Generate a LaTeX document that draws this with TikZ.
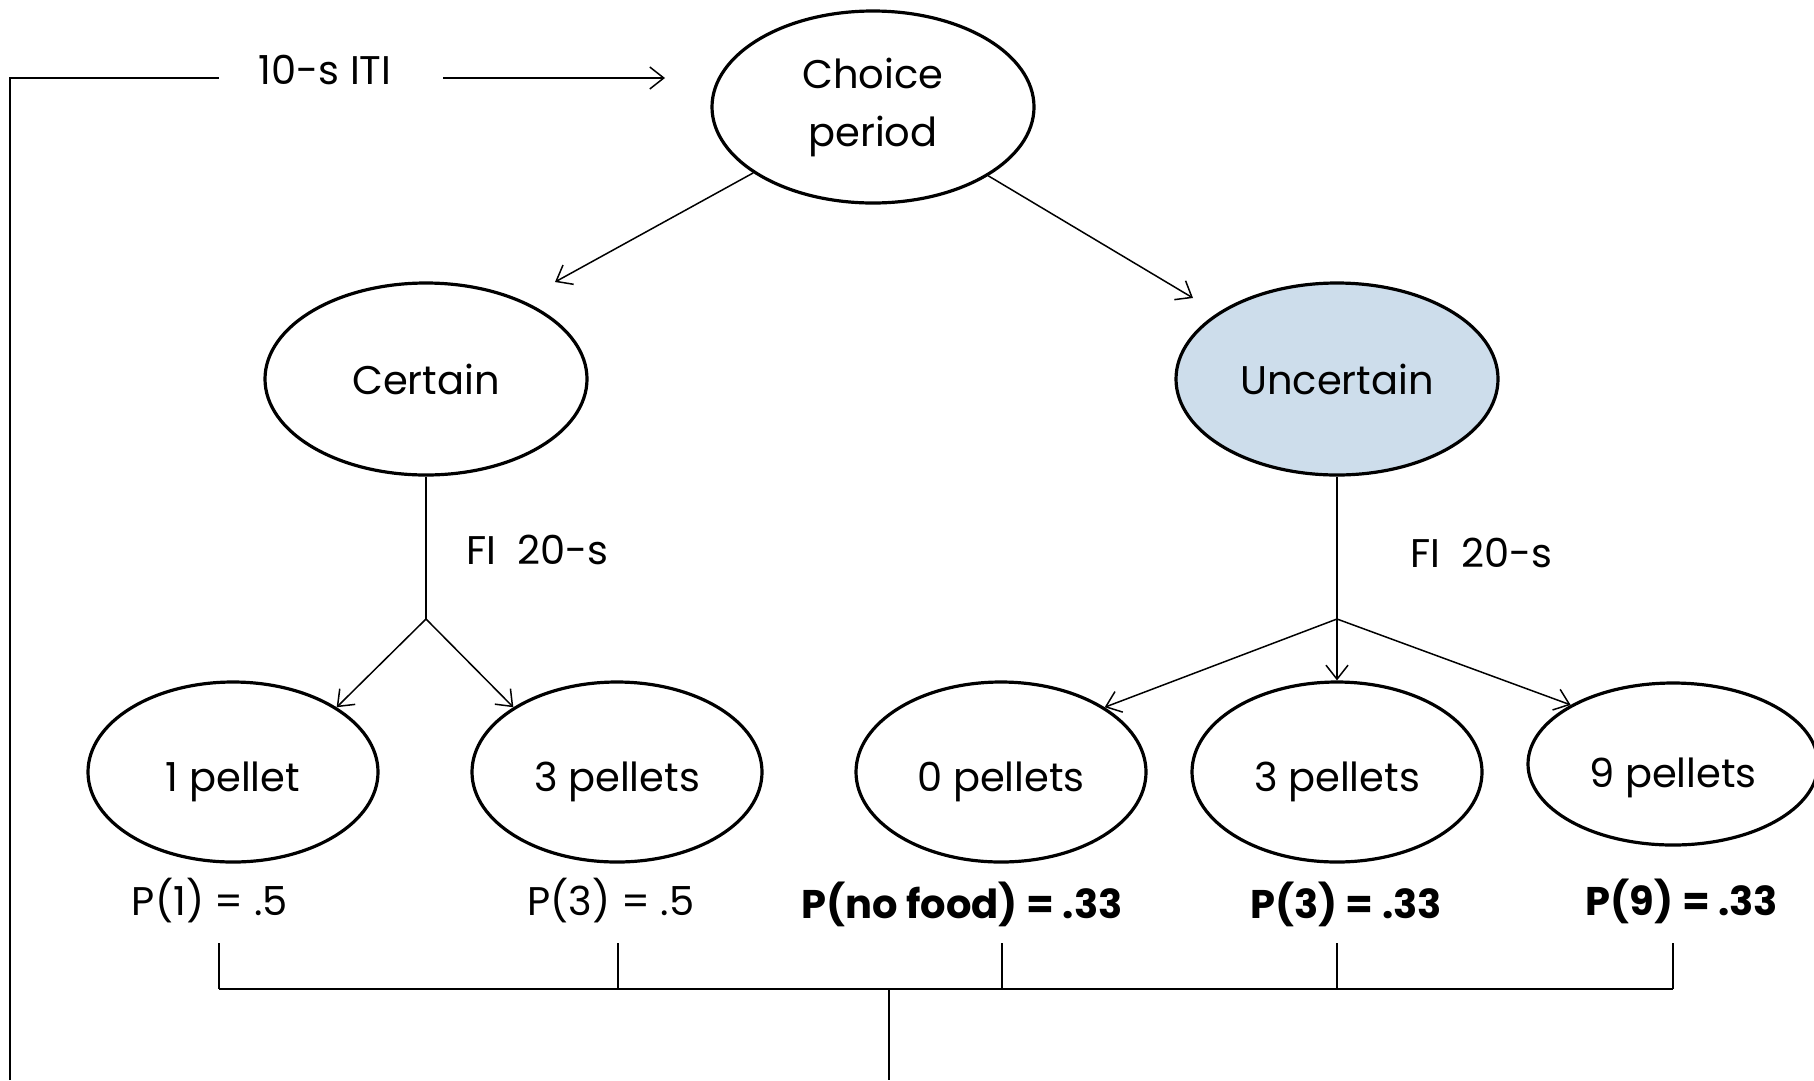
\documentclass[tikz,border=0pt]{standalone}
\usepackage{fontspec}
\setmainfont{Poppins}
\usetikzlibrary{shapes.geometric,arrows.meta}
\definecolor{paleblue}{RGB}{205,221,235}
\begin{document}
\begin{tikzpicture}[x=1pt,y=-1pt,
  txt/.style={font=\fontsize{40}{58}\selectfont, inner sep=0pt},
  oval/.style={ellipse, draw=black, line width=3.2pt, fill=white, inner sep=0pt,
               align=center, font=\fontsize{40}{58}\selectfont},
  big/.style={oval, minimum width=322pt, minimum height=192pt},
  small/.style={oval, minimum width=290pt, minimum height=180pt,
                text height=38pt, text depth=0pt},
  link/.style={line width=1.5pt},
  arr/.style={link, -{Straight Barb[length=14pt,width=22pt,line width=1.5pt]}},
  prob/.style={txt},
  probb/.style={txt, font=\fontsize{40}{58}\selectfont\bfseries}
]
\useasboundingbox (0,0) rectangle (1814,1080);

% states of a trial
\node[big] (choice) at (873,107) {Choice\\period};
\node[big] (certain) at (426,379) {Certain};
\node[big, fill=paleblue] (uncertain) at (1337,379) {Uncertain};

\node[small] (one) at (233,772) {1 pellet};
\node[small] (threeC) at (617,772) {3 pellets};
\node[small] (zero) at (1001,772) {0 pellets};
\node[small] (threeU) at (1337,772) {3 pellets};
\node[small, minimum height=162pt, text height=46pt] (nine) at (1673,764) {9 pellets};

% choice branches
\coordinate (toCertain) at (555,282);
\coordinate (toUncertain) at (1193,298);
\draw[arr] (choice) -- (toCertain);
\draw[arr] (choice) -- (toUncertain);

% fixed-interval schedules
\coordinate (splitC) at (426,619);
\coordinate (splitU) at (1337,619);
\draw[link] (certain.south) -- (splitC);
\draw[link] (uncertain.south) -- (splitU);
\node[txt, anchor=west] (fiC) at (466,550) {FI\ \ 20-s};
\node[txt, anchor=west] (fiU) at (1410,553) {FI\ \ 20-s};

\draw[arr] (splitC) -- (one.32);
\draw[arr] (splitC) -- (threeC.148);
\draw[arr] (splitU) -- (zero.32);
\draw[arr] (splitU) -- (threeU.north);
\draw[arr] (splitU) -- (nine.150);

% outcome probabilities
\node[prob] (pone) at (210,901) {P(1) = .5};
\node[prob] (pthreeC) at (611,901) {P(3) = .5};
\node[probb] (pzero) at (962,904) {P(no food) = .33};
\node[probb] (pthreeU) at (1346,904) {P(3) = .33};
\node[probb] (pnine) at (1682,901) {P(9) = .33};

% collecting bracket back to the inter-trial interval
\coordinate (t1) at (219,943);  \coordinate (b1) at (219,989);
\coordinate (t2) at (618,943);  \coordinate (b2) at (618,989);
\coordinate (t3) at (1002,943); \coordinate (b3) at (1002,989);
\coordinate (t4) at (1337,943); \coordinate (b4) at (1337,989);
\coordinate (t5) at (1673,943); \coordinate (b5) at (1673,989);
\draw[line width=1.2pt] (t1) -- (b1) (t2) -- (b2) (t3) -- (b3) (t4) -- (b4) (t5) -- (b5);
\draw[line width=2.4pt] (b1) -- (b5);
\coordinate (mid) at (889,989);
\coordinate (midEnd) at (889,1080);
\draw[link] (mid) -- (midEnd);

% return loop with the ITI
\coordinate (loopBot) at (10,1080);
\coordinate (loopTop) at (10,78);
\coordinate (itiIn) at (219,78);
\coordinate (itiOut) at (443,78);
\coordinate (toChoice) at (665,78);
\node[txt] (iti) at (325,70) {10-s ITI};
\draw[link] (loopBot) -- (loopTop) -- (itiIn);
\draw[arr] (itiOut) -- (toChoice);
\end{tikzpicture}
\end{document}
